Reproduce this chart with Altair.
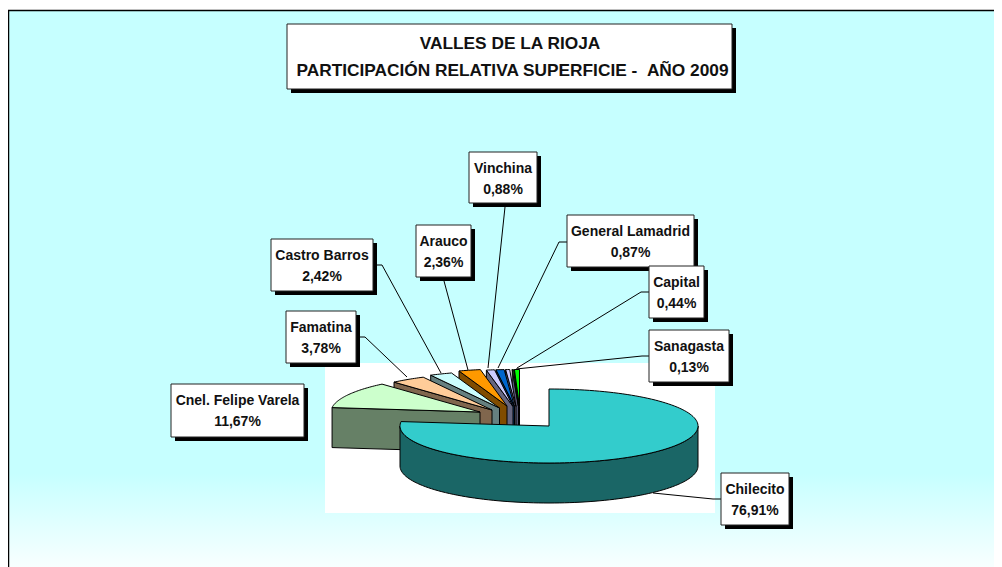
import math
import altair as alt
import pandas as pd

# --- data ---
names = ["Chilecito", "Cnel. Felipe Varela", "Famatina", "Castro Barros", "Arauco",
         "Vinchina", "General Lamadrid", "Capital", "Sanagasta"]
shares = [76.91, 11.67, 3.78, 2.42, 2.36, 0.88, 0.87, 0.44, 0.13]
share_labels = ["76,91%", "11,67%", "3,78%", "2,42%", "2,36%", "0,88%", "0,87%", "0,44%", "0,13%"]
remainder = 0.54  # unlabelled rest of the circle, drawn in the reference as a green/black sliver

# --- styles ---
top_colors = ["#33CCCC", "#CCFFCC", "#FFCC99", "#CCFFFF", "#FF9900", "#CCCCFF", "#0066CC", "#CCCCFF", "#00FF00", "#00FF00"]
wall_colors = ["#1A6666", "#668066", "#80664D", "#668080", "#804C00", "#666680", "#003366", "#666680", "#555570", "#000000"]

# --- layout (page pixels) ---
apex_x = [549, 480, 492, 499.5, 507, 513, 514.5, 516, 518.5, 519.5]
apex_y = [426, 412, 410, 408, 406, 406.5, 406.5, 406.5, 406.5, 406.5]
RX, RY, DEPTH = 149, 37, 40
box_x0 = [721, 171, 286, 271, 416, 469, 567, 649, 649]
box_x1 = [789, 304, 356, 373, 471, 537, 694, 704, 729]
box_y0 = [473, 384, 311, 239, 225, 152, 215, 266, 330]
box_y1 = [525, 437, 363, 291, 277, 203, 267, 318, 382]
leader_x = [[721, 713, 653], [], [356, 365, 407], [373, 382, 441], [444, 444, 468],
            [505, 505, 488], [567, 559, 498], [649, 641, 517], [649, 642, 516]]
leader_y = [[499, 499, 493], [], [337, 337, 377], [265, 265, 373], [277, 281, 370],
            [203, 207, 368], [242, 242, 368], [292, 292, 368], [356, 356, 369]]
title_lines = ["VALLES DE LA RIOJA", "PARTICIPACIÓN RELATIVA SUPERFICIE -\u00a0\u00a0AÑO 2009"]
title_x = [510, 512.5]
title_y = [44, 71]
W, H = 986, 559
X0, Y0 = 8, 8

xs = alt.X("x:Q", axis=None, scale=alt.Scale(domain=[X0, X0 + W], range=[0, W], nice=False, zero=False))
ys = alt.Y("y:Q", axis=None, scale=alt.Scale(domain=[Y0, Y0 + H], range=[0, H], nice=False, zero=False))
xe = alt.X2("x2:Q")
ye = alt.Y2("y2:Q")


def pt(ax, ay, deg, dy=0):
    a = math.radians(deg)
    return [ax + RX * math.sin(a), ay - RY * math.cos(a) + dy]


def poly(coords, fill):
    ring = [list(p) for p in coords] + [list(coords[0])]
    return {"type": "Feature", "properties": {"fill": fill},
            "geometry": {"type": "Polygon", "coordinates": [ring]}}


all_shares = shares + [remainder]
total = sum(all_shares)
starts, acc = [], 0.0
for s in all_shares:
    starts.append(acc / total * 360)
    acc += s
ends = starts[1:] + [360.0]

features = []
# exploded small slices, back (right) to front (left)
for i in range(len(all_shares) - 1, 0, -1):
    ax, ay = apex_x[i], apex_y[i]
    a0, a1 = starts[i], ends[i]
    p0 = pt(ax, ay, a0)
    features.append(poly([[ax, ay], p0, [p0[0], p0[1] + DEPTH], [ax, ay + DEPTH]], wall_colors[i]))
    n = max(2, int(a1 - a0) + 1)
    arc = [pt(ax, ay, a0 + (a1 - a0) * k / n) for k in range(n + 1)]
    features.append(poly([[ax, ay]] + arc, top_colors[i]))
# main slice
ax, ay = apex_x[0], apex_y[0]
degs = list(range(90, 271, 2))
features.append(poly([pt(ax, ay, d) for d in degs] + [pt(ax, ay, d, DEPTH) for d in reversed(degs)], wall_colors[0]))
a1 = ends[0]
arc = [pt(ax, ay, a1 * k / 140) for k in range(141)]
features.append(poly([[ax, ay]] + arc, top_colors[0]))

pie = alt.Chart(alt.InlineData(values={"type": "FeatureCollection", "features": features},
                               format=alt.DataFormat(property="features", type="json"))
                ).mark_geoshape(stroke="#000000", strokeWidth=1, strokeJoin="round").encode(
    fill=alt.Fill("properties.fill:N", scale=None)
).project(type="identity", scale=1, translate=[-X0, -Y0])

gradient = alt.LinearGradient(gradient="linear", x1=0, y1=0, x2=0, y2=1, stops=[
    alt.GradientStop(offset=0, color="#C6FFFF"),
    alt.GradientStop(offset=0.82, color="#C6FFFF"),
    alt.GradientStop(offset=1, color="#FCFFFF"),
])
frame_df = pd.DataFrame({"x": [8.5], "x2": [1012], "y": [10.5], "y2": [575]})
frame = alt.Chart(frame_df).mark_rect(fill=gradient, stroke="#000000", strokeWidth=1.5).encode(x=xs, x2=xe, y=ys, y2=ye)

plot_bg_df = pd.DataFrame({"x": [325], "x2": [715], "y": [363], "y2": [513]})
plot_bg = alt.Chart(plot_bg_df).mark_rect(fill="#FFFFFF").encode(x=xs, x2=xe, y=ys, y2=ye)

leader_rows = []
for i, (lx, ly) in enumerate(zip(leader_x, leader_y)):
    for k, (u, v) in enumerate(zip(lx, ly)):
        leader_rows.append({"name": names[i], "k": k, "x": u, "y": v})
leaders = alt.Chart(pd.DataFrame(leader_rows)).mark_line(color="#000000", strokeWidth=1).encode(
    x=xs, y=ys, detail="name:N", order="k:Q")

# boxes: one title box plus one box per label
bx0 = [287] + box_x0
bx1 = [732] + box_x1
by0 = [24] + box_y0
by1 = [89] + box_y1
boxes_df = pd.DataFrame({"x": bx0, "x2": bx1, "y": by0, "y2": by1})
shadow_df = boxes_df + 4
shadows = alt.Chart(shadow_df).mark_rect(fill="#000000").encode(x=xs, x2=xe, y=ys, y2=ye)
boxes = alt.Chart(boxes_df).mark_rect(fill="#FFFFFF", stroke="#222222", strokeWidth=1).encode(x=xs, x2=xe, y=ys, y2=ye)

text_rows = []
for i, n in enumerate(names):
    cx = (box_x0[i] + box_x1[i]) / 2
    text_rows.append({"x": cx, "y": box_y0[i] + 16.5, "t": n})
    text_rows.append({"x": cx, "y": box_y0[i] + 37.5, "t": share_labels[i]})
labels = alt.Chart(pd.DataFrame(text_rows)).mark_text(
    font="Liberation Sans", fontWeight="bold", fontSize=14, color="#111111", align="center", baseline="middle"
).encode(x=xs, y=ys, text="t:N")

title_df = pd.DataFrame({"x": title_x, "y": title_y, "t": title_lines})
title = alt.Chart(title_df).mark_text(
    font="Liberation Sans", fontWeight="bold", fontSize=17.3, color="#111111", align="center", baseline="middle"
).encode(x=xs, y=ys, text="t:N")

chart = alt.layer(frame, plot_bg, pie, leaders, shadows, boxes, labels, title).resolve_scale(
    x="shared", y="shared"
).properties(width=W, height=H, padding=0, autosize=alt.AutoSizeParams(type="none"), background="#FFFFFF").configure_view(stroke=None)

chart.save("out.html", embed_options={"renderer": "svg", "actions": False})
